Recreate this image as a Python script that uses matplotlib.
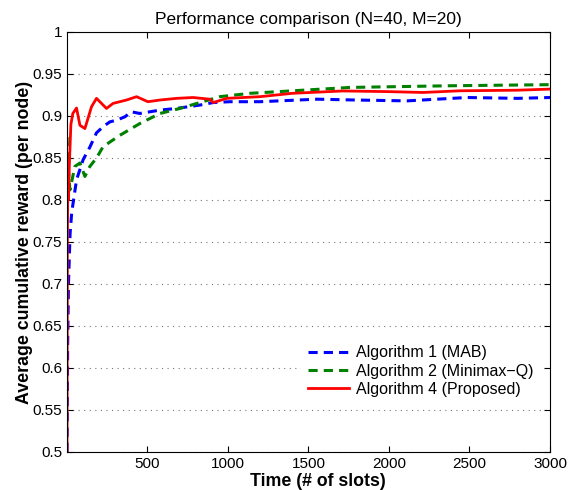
import numpy as np
import matplotlib.pyplot as plt

plt.rcParams['font.family'] = ['Liberation Sans', 'DejaVu Sans']

# data
t_blue = [1, 5, 10, 20, 30, 60, 101, 143, 184, 230, 267, 308, 360, 401, 453, 578,
          680, 826, 909, 1012, 1116, 1199, 1553, 1800, 2112, 2484, 2800, 3000]
blue = [0.50, 0.63, 0.70, 0.76, 0.785, 0.824, 0.848, 0.863, 0.880, 0.888, 0.893,
        0.895, 0.899, 0.905, 0.903, 0.907, 0.909, 0.913, 0.916, 0.917, 0.917,
        0.917, 0.920, 0.919, 0.918, 0.922, 0.921, 0.922]

t_green = [1, 8, 19, 50, 81, 112, 143, 184, 225, 329, 453, 578, 702, 826, 950,
           1137, 1758, 2379, 3000]
green = [0.875, 0.84, 0.812, 0.84, 0.844, 0.828, 0.840, 0.85, 0.8635, 0.877,
         0.891, 0.903, 0.909, 0.916, 0.923, 0.927, 0.934, 0.936, 0.9373]

t_red = [1, 3, 6, 10, 15, 25, 37, 60, 81, 112, 153, 184, 215, 246, 287, 370, 433,
         503, 578, 681, 784, 888, 909, 993, 1199, 1400, 1714, 2000, 2211, 2441,
         2795, 3000]
red = [0.50, 0.75, 0.82, 0.80, 0.84, 0.89, 0.903, 0.9095, 0.889, 0.885, 0.911,
       0.921, 0.915, 0.909, 0.915, 0.919, 0.923, 0.917, 0.919, 0.921, 0.922,
       0.920, 0.916, 0.921, 0.923, 0.927, 0.9298, 0.929, 0.928, 0.930, 0.9307,
       0.932]

labels = ['Algorithm 1 (MAB)', 'Algorithm 2 (Minimax\u2212Q)', 'Algorithm 4 (Proposed)']
yticks = [0.5, 0.55, 0.6, 0.65, 0.7, 0.75, 0.8, 0.85, 0.9, 0.95, 1.0]
ytick_labels = ['0.5', '0.55', '0.6', '0.65', '0.7', '0.75', '0.8', '0.85', '0.9', '0.95', '1']
xticks = [500, 1000, 1500, 2000, 2500, 3000]

fig = plt.figure(figsize=(5.69, 4.9), dpi=100)
ax = fig.add_axes([0.1178, 0.0776, 0.8488, 0.8571])

ax.plot(t_blue, blue, color='#0000ff', lw=2.2, linestyle=(0, (3, 2)), label=labels[0])
ax.plot(t_green, green, color='#008000', lw=2.2, linestyle=(0, (3, 2)), label=labels[1])
ax.plot(t_red, red, color='#ff0000', lw=2.0, label=labels[2])

ax.set_xlim(1, 3000)
ax.set_ylim(0.5, 1.0)
ax.set_xticks(xticks)
ax.set_yticks(yticks)
ax.set_yticklabels(ytick_labels)
ax.tick_params(direction='in', top=True, right=True, labelsize=11, length=4)
ax.yaxis.grid(True, linestyle=(0, (1, 4)), color='#777777', lw=0.8)

ax.set_title('Performance comparison (N=40, M=20)', fontsize=12.5)
ax.set_xlabel('Time (# of slots)', fontsize=12.8, fontweight='bold')
ax.xaxis.set_label_coords(0.52, -0.05)
ax.set_ylabel('Average cumulative reward (per node)', fontsize=12.8, fontweight='bold',
              labelpad=0)

leg = ax.legend(loc='lower right', bbox_to_anchor=(0.995, 0.097), fontsize=11.5,
                handlelength=2.6, handletextpad=0.4, fancybox=False, framealpha=1,
                borderpad=0.4, labelspacing=0.2)
leg.get_frame().set_edgecolor('white')

fig.savefig('out.png', dpi=100)
